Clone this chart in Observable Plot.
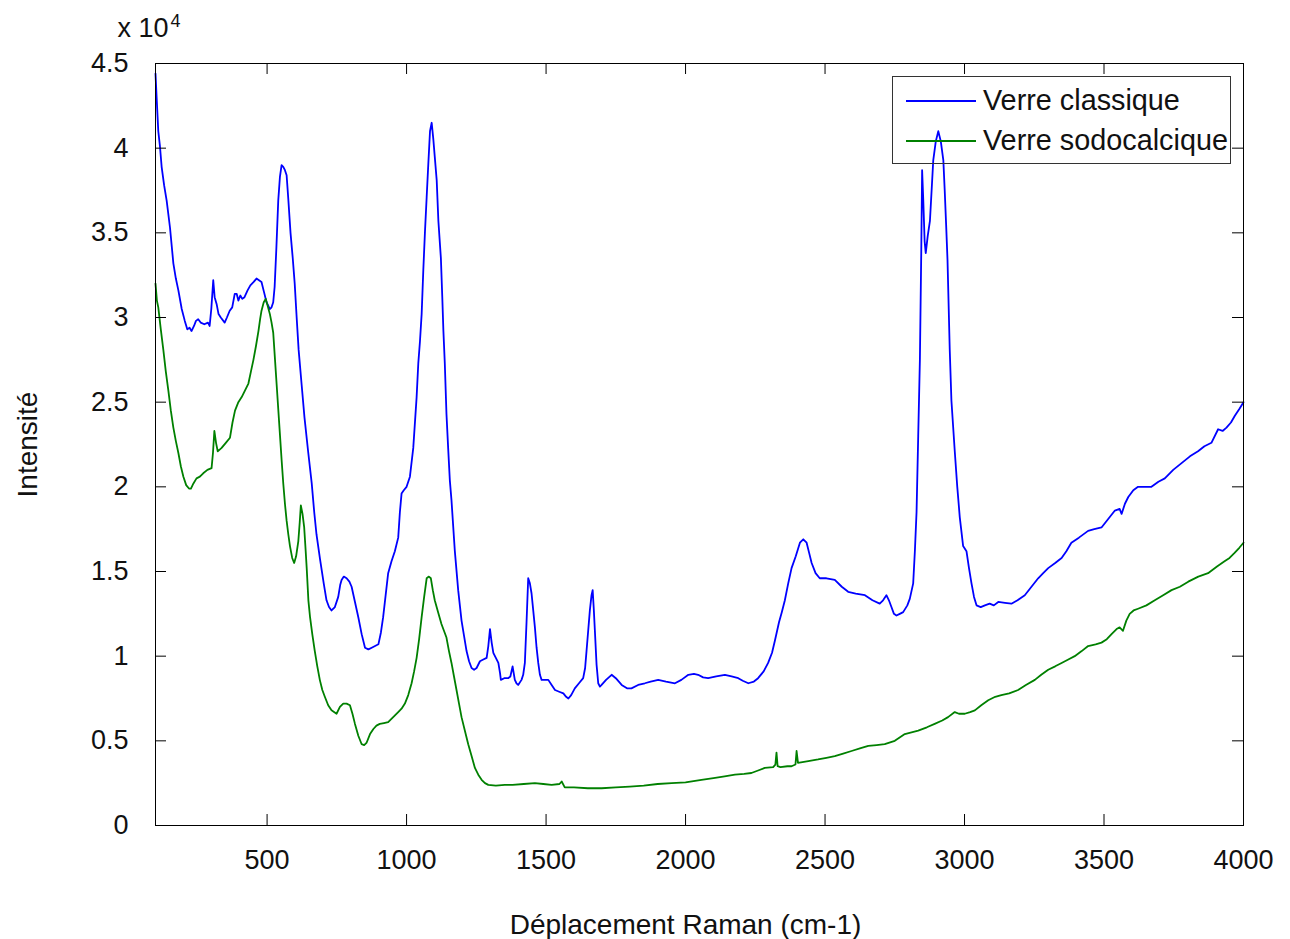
<!DOCTYPE html>
<html>
<head>
<meta charset="utf-8">
<script src="https://cdn.jsdelivr.net/npm/d3@7"></script>
<script src="https://cdn.jsdelivr.net/npm/@observablehq/plot@0.6"></script>
<style>
  html, body { margin: 0; padding: 0; background: #fff; overflow: hidden; }
  #wrap { position: relative; width: 1290px; height: 939px; font-family: "Liberation Sans", Arial, sans-serif; }
  #legend { position: absolute; left: 892px; top: 76px; width: 339px; height: 88px; border: 1px solid #333; background: transparent; box-sizing: border-box; pointer-events: none; }
  .item { position: absolute; left: 0; height: 40px; width: 100%; }
  .swatch { position: absolute; left: 13px; width: 70px; height: 0; top: 0; }
  .lbl { position: absolute; left: 90px; top: -18px; font-size: 28.8px; line-height: 36px; color: #111; white-space: nowrap; }
</style>
</head>
<body>
<div id="wrap"></div>
<script>
// ---- Data ----
const seriesNames = ["Verre classique", "Verre sodocalcique"];
const seriesColors = ["#0000ff", "#008000"];

const blueShift = [100,104,110,116,122,131,140,152,164,173,182,194,205,214,222,229,238,245,253,262,275,288,294,300,307,312,319,326,334,348,356,366,375,384,391,397,404,411,419,430,440,452,462,471,480,489,498,504,510,516,522,527,533,540,546,552,558,564,570,576,584,592,599,606,613,624,634,647,660,669,677,690,703,713,722,731,743,755,762,767,775,785,795,803,815,827,839,851,863,875,887,899,908,916,925,934,946,958,970,976,982,990,1000,1012,1024,1036,1042,1048,1054,1060,1066,1072,1078,1084,1090,1096,1101,1108,1114,1123,1128,1132,1137,1143,1149,1155,1161,1173,1185,1197,1206,1215,1224,1233,1242,1251,1263,1275,1287,1293,1299,1305,1311,1320,1329,1335,1338,1350,1364,1372,1380,1384,1388,1394,1400,1412,1418,1424,1430,1436,1442,1448,1454,1460,1466,1472,1478,1484,1496,1508,1520,1532,1547,1562,1572,1580,1590,1603,1618,1633,1640,1645,1651,1657,1663,1667,1671,1675,1681,1687,1693,1699,1715,1735,1750,1771,1790,1806,1830,1854,1875,1902,1930,1962,1985,2010,2030,2045,2063,2081,2110,2141,2165,2189,2205,2225,2245,2260,2280,2296,2310,2320,2335,2345,2356,2368,2380,2395,2410,2422,2434,2443,2452,2466,2481,2505,2535,2560,2583,2610,2643,2670,2696,2708,2720,2729,2738,2747,2756,2768,2780,2795,2804,2816,2822,2828,2834,2840,2845,2848,2852,2857,2861,2868,2876,2882,2888,2897,2906,2915,2924,2929,2934,2939,2947,2953,2965,2974,2983,2995,3007,3016,3025,3034,3043,3058,3073,3090,3105,3121,3145,3168,3190,3216,3240,3264,3282,3300,3325,3348,3365,3383,3410,3443,3465,3491,3515,3539,3556,3563,3575,3587,3605,3622,3645,3670,3695,3718,3748,3778,3808,3837,3860,3885,3909,3925,3939,3955,3969,3985,4000];
const blueIntensity = [44400,43000,41000,40100,38900,37800,36900,35300,33200,32300,31600,30500,29800,29300,29400,29200,29500,29800,29900,29700,29600,29700,29500,30500,32200,31200,30800,30200,30000,29700,30000,30400,30600,31400,31400,31000,31300,31100,31200,31600,31900,32100,32300,32200,32100,31500,30900,30700,30500,30600,30900,31800,34000,36900,38300,39000,38900,38700,38400,37000,35000,33500,32000,30000,28100,26000,24100,22100,20200,18500,17200,15700,14300,13300,12900,12700,12900,13500,14200,14500,14700,14600,14400,14100,13200,12300,11300,10500,10400,10500,10600,10700,11400,12300,13600,14900,15600,16200,17000,18500,19600,19800,20000,20600,22300,25300,27300,28600,30200,32800,35100,37100,39100,41000,41500,40500,39500,38100,35700,33500,31200,29200,27300,24300,22300,20400,19200,16200,13900,12100,11200,10300,9700,9300,9200,9300,9700,9800,9900,10600,11600,10800,10200,9900,9600,9000,8600,8700,8700,8800,9400,9000,8600,8400,8300,8600,8900,9600,12000,14600,14300,13700,12700,11700,10500,9600,8900,8600,8600,8600,8300,8000,7900,7800,7600,7500,7700,8100,8400,8700,9300,10300,11500,12700,13600,13900,12800,11500,9500,8400,8200,8300,8600,8900,8700,8300,8100,8100,8300,8400,8500,8600,8500,8400,8600,8900,8950,8900,8750,8700,8800,8900,8800,8700,8550,8400,8500,8700,9100,9600,10200,10900,12000,12600,13300,14300,15200,15900,16700,16900,16700,16100,15500,14900,14600,14600,14500,14100,13800,13700,13600,13300,13100,13300,13600,13300,12900,12500,12400,12500,12600,13000,13400,14300,16200,18500,23000,27500,34000,38700,37000,34500,33800,34800,35700,37500,39300,40400,41000,40400,39300,37500,35500,33400,28100,25100,22100,20000,18200,16500,16200,15200,14300,13500,13000,12900,13000,13100,13000,13200,13150,13100,13300,13600,14100,14600,14900,15200,15500,15800,16200,16700,17000,17400,17500,17600,18100,18600,18700,18400,19000,19400,19800,20000,20000,20000,20300,20500,21000,21400,21800,22100,22400,22600,23400,23300,23500,23800,24200,24600,25000];

const greenShift = [100,105,110,119,128,137,146,155,164,173,182,191,200,210,220,227,236,247,259,271,286,301,306,311,317,323,330,337,352,367,376,385,397,409,421,433,442,451,460,469,475,480,488,495,502,510,516,522,528,534,540,546,552,558,564,570,576,582,590,597,604,612,617,621,627,633,638,642,648,654,662,671,680,689,698,707,719,731,740,749,761,773,785,797,806,815,827,839,848,857,869,881,892,904,919,934,952,970,982,994,1006,1018,1027,1036,1045,1054,1063,1072,1080,1087,1094,1101,1113,1125,1134,1143,1152,1161,1170,1179,1188,1197,1209,1221,1233,1245,1257,1269,1281,1293,1320,1352,1380,1420,1460,1490,1520,1548,1556,1567,1600,1650,1699,1750,1800,1850,1900,1950,2000,2057,2100,2140,2177,2210,2236,2260,2284,2314,2322,2326,2330,2340,2365,2380,2394,2398,2403,2440,2475,2505,2535,2565,2595,2625,2655,2685,2714,2750,2786,2810,2834,2865,2893,2920,2941,2965,2980,3001,3020,3037,3060,3085,3110,3132,3160,3192,3220,3252,3275,3300,3325,3348,3372,3395,3420,3443,3470,3491,3510,3527,3545,3556,3568,3580,3592,3606,3622,3652,3682,3712,3742,3772,3802,3838,3873,3905,3932,3950,3968,3985,4000];
const greenIntensity = [32000,31000,30600,29300,28100,26800,25700,24500,23500,22700,22000,21200,20600,20100,19900,19900,20200,20500,20600,20800,21000,21100,22000,23300,22600,22100,22200,22300,22600,22900,23800,24500,25000,25300,25700,26100,26800,27500,28300,29200,29900,30400,30900,31100,30700,30200,29700,29100,27600,26100,24600,23100,21600,20200,19000,18000,17200,16500,15800,15500,15900,16800,17900,18900,18400,17600,16300,15200,13300,12300,11300,10300,9400,8600,8000,7600,7100,6800,6700,6600,7000,7200,7200,7100,6600,6000,5300,4800,4750,4900,5400,5700,5900,6000,6050,6100,6400,6700,6900,7200,7700,8400,9100,9900,11000,12300,13500,14600,14700,14600,13900,13300,12600,11900,11500,11100,10300,9600,8800,8000,7200,6400,5600,4800,4100,3400,3000,2700,2500,2400,2350,2400,2400,2450,2500,2450,2400,2450,2600,2250,2250,2200,2200,2250,2300,2350,2450,2500,2550,2700,2800,2900,3000,3050,3100,3250,3400,3450,3600,4300,3500,3450,3500,3500,3600,4400,3700,3800,3900,4000,4100,4250,4400,4550,4700,4750,4800,5000,5400,5500,5600,5800,6000,6200,6400,6700,6600,6600,6700,6800,7100,7400,7600,7700,7800,8000,8300,8600,8900,9200,9400,9600,9800,10000,10300,10600,10700,10800,11000,11300,11600,11700,11500,12100,12500,12700,12800,13000,13300,13600,13900,14100,14400,14700,14900,15300,15600,15800,16100,16400,16700];

const xTickValues = [500,1000,1500,2000,2500,3000,3500,4000];
const yTickValues = [0,5000,10000,15000,20000,25000,30000,35000,40000,45000];
const xDomain = [100, 4000];
const yDomain = [0, 45000];

// ---- Build rows ----
const rows = [];
blueShift.forEach((x, i) => rows.push({series: seriesNames[0], x, y: blueIntensity[i]}));
greenShift.forEach((x, i) => rows.push({series: seriesNames[1], x, y: greenIntensity[i]}));

const W = 1290, H = 939, mL = 155, mR = 47, mT = 63, mB = 114;
const tickPx = 11;
const xTickLen = tickPx * (xDomain[1] - xDomain[0]) / (W - mL - mR);
const yTickLen = tickPx * (yDomain[1] - yDomain[0]) / (H - mT - mB);
const font = "Liberation Sans, Arial, sans-serif";

const chart = Plot.plot({
  width: W, height: H,
  marginLeft: mL, marginRight: mR, marginTop: mT, marginBottom: mB,
  x: {domain: xDomain},
  y: {domain: yDomain},
  color: {domain: seriesNames, range: seriesColors},
  style: {fontFamily: font, background: "#fff", color: "#000", overflow: "visible"},
  marks: [
    Plot.line(rows, {x: "x", y: "y", z: "series", stroke: "series", strokeWidth: 1.8}),
    Plot.frame({stroke: "#000", strokeWidth: 1}),
    Plot.ruleX(xTickValues, {x: d => d, y1: yDomain[0], y2: yDomain[0] + yTickLen, stroke: "#000"}),
    Plot.ruleX(xTickValues, {x: d => d, y1: yDomain[1], y2: yDomain[1] - yTickLen, stroke: "#000"}),
    Plot.ruleY(yTickValues, {y: d => d, x1: xDomain[0], x2: xDomain[0] + xTickLen, stroke: "#000"}),
    Plot.ruleY(yTickValues, {y: d => d, x1: xDomain[1], x2: xDomain[1] - xTickLen, stroke: "#000"}),
    Plot.axisX(xTickValues, {tickSize: 0, tickPadding: 24, fontSize: 27, label: null, tickFormat: d => String(d), fill: "#111"}),
    Plot.axisY(yTickValues, {tickSize: 0, tickPadding: 27, fontSize: 27, label: null, tickFormat: d => String(d / 1e4), fill: "#111"}),
    Plot.text(["Déplacement Raman (cm-1)"], {frameAnchor: "bottom", lineAnchor: "middle", dx: -14, dy: 100, fontSize: 28, fill: "#111"}),
    Plot.text(["Intensité"], {frameAnchor: "left", textAnchor: "middle", lineAnchor: "middle", dx: -127, rotate: -90, fontSize: 28, fill: "#111"}),
    Plot.text(["x 10"], {frameAnchor: "top-left", lineAnchor: "middle", dx: -38, dy: -35, textAnchor: "start", fontSize: 27, fill: "#111"}),
    Plot.text(["4"], {frameAnchor: "top-left", lineAnchor: "middle", dx: 15, dy: -42, textAnchor: "start", fontSize: 18, fill: "#111"})
  ]
});

const wrap = document.getElementById("wrap");
wrap.appendChild(chart);

// Legend (HTML overlay inside the axes, top-right; transparent like the reference)
const legend = document.createElement("div");
legend.id = "legend";
seriesNames.forEach((name, i) => {
  const item = document.createElement("div");
  item.className = "item";
  item.style.top = (23 + i * 40) + "px";
  const sw = document.createElement("div");
  sw.className = "swatch";
  sw.style.borderTop = "2px solid " + seriesColors[i];
  const lb = document.createElement("div");
  lb.className = "lbl";
  lb.textContent = name;
  item.appendChild(sw);
  item.appendChild(lb);
  legend.appendChild(item);
});
wrap.appendChild(legend);
</script>
</body>
</html>
